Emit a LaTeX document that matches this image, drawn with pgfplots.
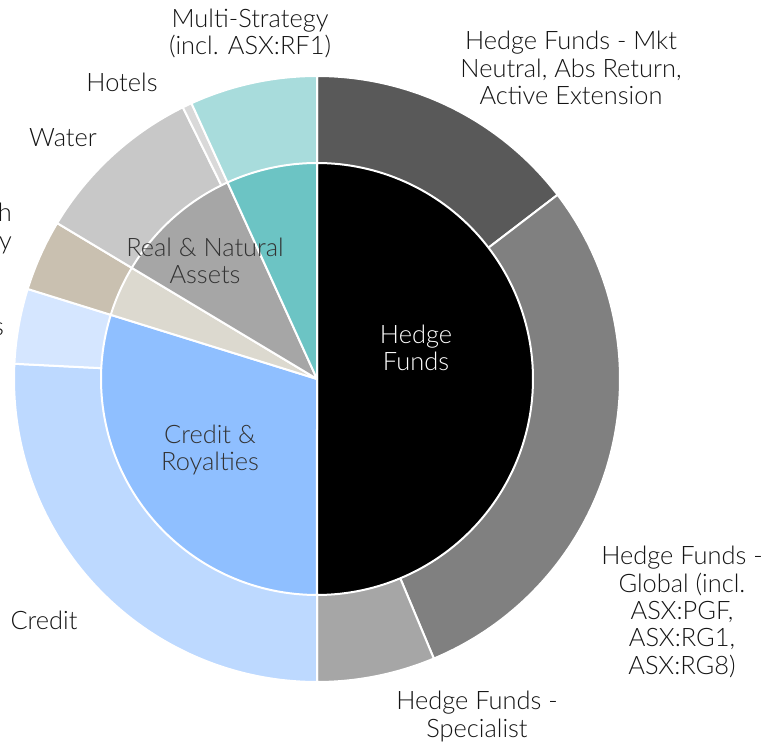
\documentclass[border=0pt]{standalone}
\usepackage{pgfplots}
\pgfplotsset{compat=1.18}
\usepackage{fontspec}
\setmainfont{Lato}[UprightFont={* Light}, BoldFont={* Regular}]
\definecolor{cMkt}{HTML}{595959}
\definecolor{cGlob}{HTML}{808080}
\definecolor{cSpec}{HTML}{A6A6A6}
\definecolor{cHF}{HTML}{000000}
\definecolor{cCred}{HTML}{BDD9FF}
\definecolor{cRoy}{HTML}{D5E6FF}
\definecolor{cCR}{HTML}{8FBFFF}
\definecolor{cGrow}{HTML}{C9C0B0}
\definecolor{cPE}{HTML}{DCD9CF}
\definecolor{cWater}{HTML}{C8C8C8}
\definecolor{cHotel}{HTML}{D9D9D9}
\definecolor{cRN}{HTML}{A6A6A6}
\definecolor{cMSo}{HTML}{A8DCDC}
\definecolor{cMSi}{HTML}{6CC4C4}
\definecolor{txt}{HTML}{141414}
% centre of the chart and radii (in picture units)
\def\cx{317}
\def\cy{367}
% sector: #1 cumulative share before (%), #2 share (%), #3 radius, #4 colour
\newcommand{\sector}[4]{%
  \addplot[fill=#4, draw=white, line width=2bp, line join=round,
    domain={90-3.6*(#1+#2)}:{90-3.6*#1}, samples=120]
    ({\cx+#3*cos(x)},{\cy+#3*sin(x)}) -- (axis cs:\cx,\cy) -- cycle;
}
\begin{document}
\begin{tikzpicture}
\begin{axis}[x=1bp, y=1bp, xmin=0, xmax=769, ymin=0, ymax=746,
  hide axis, clip=false, anchor=origin, at={(0,0)}]
\coordinate (ll) at (axis cs:0,0);
\coordinate (ur) at (axis cs:769,746);
% outer ring: sub-categories (share in %)
\sector{0}{14.6}{303}{cMkt}     % Hedge Funds - Mkt Neutral, Abs Return, Active Extension
\sector{14.6}{29.1}{303}{cGlob} % Hedge Funds - Global
\sector{43.7}{6.3}{303}{cSpec}  % Hedge Funds - Specialist
\sector{50.0}{25.8}{303}{cCred} % Credit
\sector{75.8}{4.0}{303}{cRoy}   % Royalties
\sector{79.8}{3.8}{303}{cGrow}  % Growth Equity
\sector{83.6}{9.1}{303}{cWater} % Water
\sector{92.7}{0.5}{303}{cHotel} % Hotels
\sector{93.2}{6.8}{303}{cMSo}   % Multi-Strategy
% inner ring: categories
\sector{0}{50.0}{216}{cHF}      % Hedge Funds
\sector{50.0}{29.8}{216}{cCR}   % Credit & Royalties
\sector{79.8}{3.8}{216}{cPE}    % Private Equity
\sector{83.6}{9.6}{216}{cRN}    % Real & Natural Assets
\sector{93.2}{6.8}{216}{cMSi}   % Multi-Strategy
% labels
\begin{scope}[every node/.style={font={\fontsize{25.5}{27.5}\selectfont}, align=center, text=txt, inner sep=0pt}]
\node at (axis cs:250,712.5) {Multi-Strategy\\(incl. ASX:RF1)};
\node at (axis cs:571,678) {Hedge Funds - Mkt\\Neutral, Abs Return,\\Active Extension};
\node at (axis cs:122,664) {Hotels};
\node at (axis cs:63,608) {Water};
\node[anchor=east, align=right] at (axis cs:12,517.5) {Growth\\Equity};
\node[anchor=east, align=right] at (axis cs:4,418) {Royalties};
\node at (axis cs:44,126) {Credit};
\node at (axis cs:682,134) {Hedge Funds -\\Global (incl.\\ASX:PGF,\\ASX:RG1,\\ASX:RG8)};
\node at (axis cs:477,29.5) {Hedge Funds -\\Specialist};
\node[text=white] at (axis cs:416,398) {Hedge\\Funds};
\node[text=black!80] at (axis cs:210,296) {Credit \&\\Royalties};
\node[text=black!80] at (axis cs:205,485) {Real \& Natural\\Assets};
\end{scope}
\end{axis}
\pgfresetboundingbox
\path[use as bounding box] (ll) rectangle (ur);
\end{tikzpicture}
\end{document}
